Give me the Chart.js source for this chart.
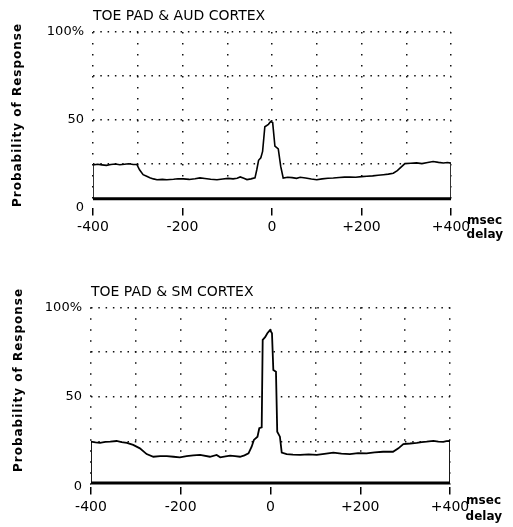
<!DOCTYPE html>
<html lang="en">
<head>
<meta charset="UTF-8">
<title>Toe pad response probability</title>
<script src="https://cdn.jsdelivr.net/npm/chart.js"></script>
<style>
  body { margin: 0; background: #fff; }
  canvas { display: block; }
</style>
</head>
<body>
<canvas id="audChart" width="513" height="255"></canvas>
<canvas id="smChart" width="513" height="272"></canvas>
<script>
// delay (msec) and probability of response (%)
const audDelay = [-400, -390, -380, -370, -360, -350, -340, -330, -320, -310, -302, -296, -288, -280, -273, -265, -257,
  -245, -235, -220, -210, -198, -185, -172, -161, -150, -137, -123, -110, -98, -87, -78, -71, -63, -56, -47, -38,
  -34, -30, -25, -21, -16, -8, -3, 1.5, 6.5, 14, 19.5, 25,
  35, 45, 55, 63, 75, 88, 100, 112, 125, 137, 150, 162, 174, 187, 200, 212, 225, 237, 249, 260, 271, 280, 286, 297,
  310, 323, 335, 348, 360, 372, 383, 392, 400];
const audProb = [24.2, 24.6, 24.3, 24.0, 24.5, 24.8, 24.4, 24.6, 24.9, 24.5, 24.5, 21.5, 18.7, 17.8, 17.0, 16.3, 15.8,
  16.0, 15.8, 16.1, 16.4, 16.3, 16.0, 16.4, 16.9, 16.5, 16.1, 15.8, 16.2, 16.6, 16.3, 16.7, 17.4, 16.6, 15.9, 16.3, 16.9,
  21.5, 26.9, 28.3, 32, 46, 47.4, 49, 48.4, 35, 33.4, 23.4, 16.8,
  17.2, 17.0, 16.6, 17.2, 16.8, 16.2, 15.8, 16.3, 16.7, 16.8, 17.1, 17.3, 17.4, 17.2, 17.6, 17.8, 18.0, 18.4, 18.7, 19.0, 19.5, 21.0, 22.4, 25.0,
  25.2, 25.4, 25.0, 25.6, 26.2, 25.7, 25.4, 25.6, 25.3];

const smDelay = [-400, -390, -380, -368, -357, -343, -332, -320, -306, -291, -276, -261, -246, -231, -216, -202, -187,
  -172, -157, -135, -120, -112, -100, -90, -79, -68, -58, -49, -42, -37, -29, -25, -19.6,
  -17.4, -12, -7, -1, 3.3, 6.3, 12.2, 15, 21, 25,
  36, 50, 66, 85, 103, 120, 140, 158, 177, 195, 214, 232, 251, 273, 285, 296, 311, 326, 337, 348, 363, 374, 385, 392, 400];
const smProb = [25.0, 24.6, 24.4, 24.9, 25.0, 25.4, 24.8, 24.4, 23.2, 21.3, 18.1, 16.6, 16.9, 17.0, 16.6, 16.3, 17.0,
  17.4, 17.6, 16.6, 17.6, 16.3, 16.8, 17.2, 16.9, 16.6, 17.4, 18.5, 22.2, 26.0, 27.8, 32.5, 33.0,
  81.8, 83.3, 85.5, 87.3, 85.5, 65.0, 64.0, 30.6, 27.8, 18.9,
  18.1, 17.8, 17.6, 17.9, 17.6, 18.2, 18.9, 18.3, 18.1, 18.6, 18.5, 19.0, 19.4, 19.4, 21.3, 23.7, 24.0, 24.4, 24.8, 25.0, 25.5, 25.0, 24.9, 25.3, 25.5];

// floor of each histogram box
const audFloor = 5;
const smFloor = 2;

const xTicks = [-400, -200, 0, 200, 400];
const xTickLabels = ['-400', '-200', '0', '+200', '+400'];
const yTicks = [0, 50, 100];
const yTickLabels = ['0', '50', '100%'];

const FONT = '"DejaVu Sans", sans-serif';

// y-axis title and the "msec / delay" note
const sideText = {
  id: 'sideText',
  afterDraw(chart, args, opts) {
    const ctx = chart.ctx;
    const a = chart.chartArea;
    ctx.save();
    ctx.fillStyle = '#000';
    ctx.textBaseline = 'middle';
    ctx.textAlign = 'right';
    ctx.font = 'bold 12px ' + FONT;
    ctx.fillText('msec', a.right + 51, a.bottom + opts.msecDy);
    ctx.fillText('delay', a.right + 52, a.bottom + opts.delayDy);
    ctx.translate(opts.titleX, opts.titleY);
    ctx.rotate(-Math.PI / 2);
    ctx.textAlign = 'center';
    ctx.letterSpacing = '1px';
    ctx.fillText('Probability of Response', 0, 0);
    ctx.restore();
  }
};

function outline(delay, prob, floor) {
  const pts = delay.map((d, i) => ({ x: d, y: prob[i] }));
  return [{ x: delay[0], y: floor }, ...pts, { x: delay[delay.length - 1], y: floor }];
}

function makeChart(id, title, delay, prob, floor, g) {
  const ctx = document.getElementById(id).getContext('2d');
  return new Chart(ctx, {
    type: 'line',
    data: {
      datasets: [{
        // bottom edge of the box
        data: [{ x: delay[0], y: floor }, { x: delay[delay.length - 1], y: floor }],
        borderColor: '#000',
        borderWidth: 3,
        pointRadius: 0
      }, {
        data: outline(delay, prob, floor),
        borderColor: '#000',
        borderWidth: g.lineWidth,
        backgroundColor: '#fff',
        fill: 'origin',
        pointRadius: 0,
        tension: 0
      }]
    },
    options: {
      responsive: false,
      animation: false,
      devicePixelRatio: 1,
      layout: { padding: { left: 0, right: g.right, top: 0, bottom: 0 } },
      scales: {
        x: {
          type: 'linear',
          min: -400,
          max: 400,
          afterFit(scale) {
            scale.height = g.xHeight;
            scale.paddingLeft = 0;
            scale.paddingRight = 0;
          },
          border: { display: false, dash: [1.5, 9.5] },
          grid: {
            color: '#111',
            lineWidth: 1.5,
            tickLength: 8,
            tickWidth: 1.5,
            tickColor: c => xTicks.includes(c.tick.value) ? '#000' : 'rgba(0,0,0,0)'
          },
          ticks: {
            stepSize: 100,
            autoSkip: false,
            maxRotation: 0,
            padding: g.xPad,
            color: '#000',
            font: { family: FONT, size: 14 },
            callback: v => {
              const i = xTicks.indexOf(v);
              return i < 0 ? '' : xTickLabels[i];
            }
          }
        },
        y: {
          min: 0,
          max: 100,
          afterFit(scale) {
            scale.width = g.yWidth;
            scale.paddingTop = 0;
            scale.paddingBottom = 0;
          },
          border: { display: false, dash: [1.5, 5.8] },
          grid: {
            color: c => c.tick.value === 0 ? 'rgba(0,0,0,0)' : '#111',
            lineWidth: 1.5,
            drawTicks: false
          },
          ticks: {
            stepSize: 25,
            padding: 9,
            color: '#000',
            font: { family: FONT, size: 13 },
            callback: v => {
              const i = yTicks.indexOf(v);
              return i < 0 ? '' : yTickLabels[i];
            }
          }
        }
      },
      plugins: {
        legend: { display: false },
        tooltip: { enabled: false },
        title: {
          display: true,
          text: title,
          align: 'start',
          fullSize: false,
          color: '#000',
          font: { family: FONT, size: 14, weight: 'normal' },
          padding: { top: g.titleTop, bottom: g.titleBottom }
        },
        sideText: g.side
      }
    },
    plugins: [sideText]
  });
}

makeChart('audChart', 'TOE PAD & AUD CORTEX', audDelay, audProb, audFloor, {
  right: 62, xHeight: 47.5, xPad: 3, yWidth: 93, titleTop: 8, titleBottom: 7.2, lineWidth: 1.6,
  side: { titleX: 18, titleY: 115, msecDy: 13.5, delayDy: 27.5 }
});

makeChart('smChart', 'TOE PAD & SM CORTEX', smDelay, smProb, smFloor, {
  right: 63, xHeight: 40.5, xPad: 4, yWidth: 91, titleTop: 28.6, titleBottom: 6.9, lineWidth: 1.8,
  side: { titleX: 19, titleY: 125, msecDy: 14.5, delayDy: 30.5 }
});
</script>
</body>
</html>
